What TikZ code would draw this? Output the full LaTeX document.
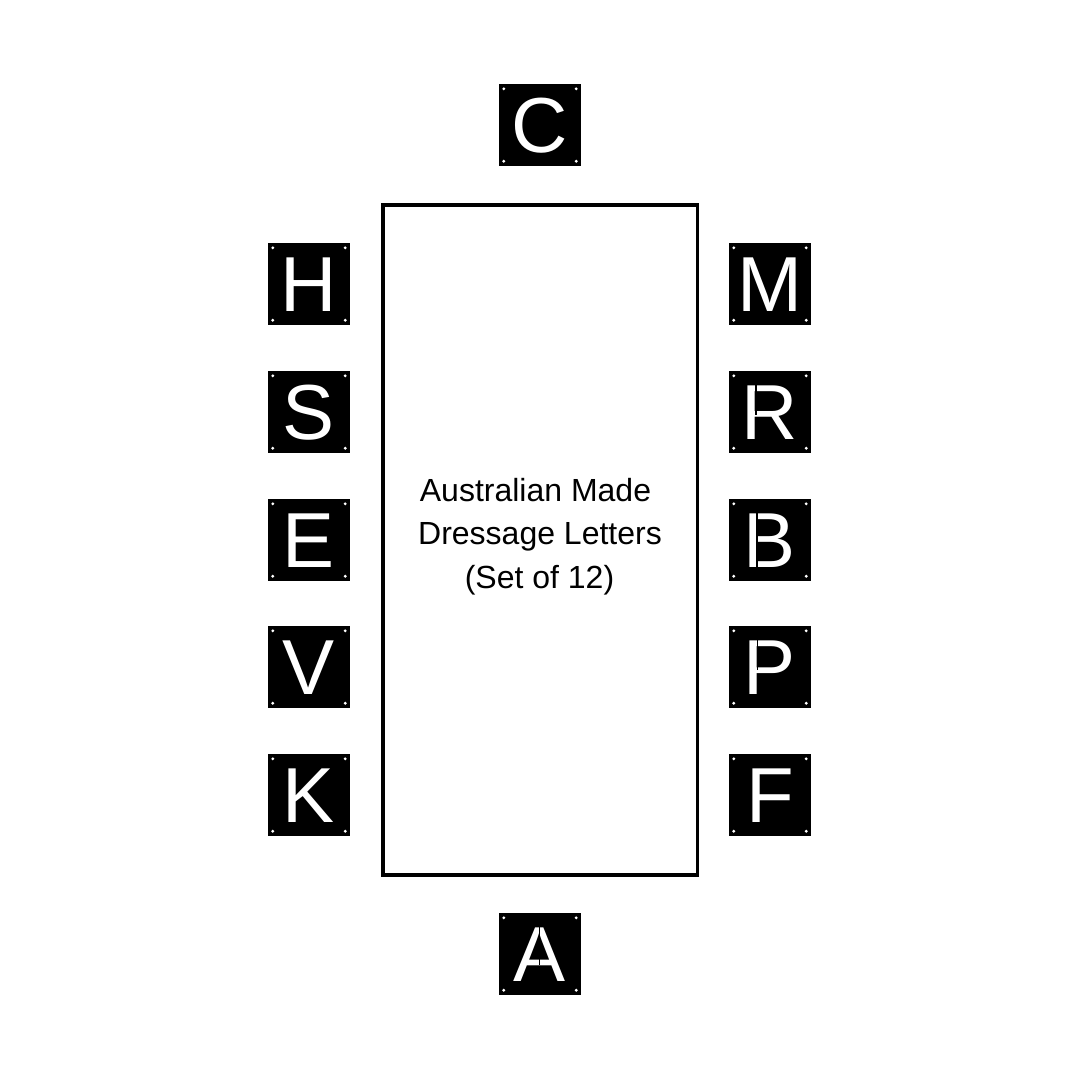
\documentclass[tikz,border=0pt]{standalone}
\usepackage{fontspec}
\setmainfont{Liberation Sans}
\usetikzlibrary{calc}
\tikzset{
  tile/.style={fill=black, minimum size=82pt, inner sep=0pt, text=white,
    font=\fontsize{78}{78}\selectfont, text height=55.8pt, text depth=0pt},
  hole/.style={fill=white},
  stencilcut/.style={draw=black, line width=1.6pt},
  caption/.style={anchor=base, inner sep=0pt, font=\fontsize{32}{32}\selectfont},
  arena/.style={draw=black, line width=3.6pt, inner sep=0pt, minimum width=314.5pt, minimum height=670.3pt},
}
\newcommand\tileholes[1]{%
  \fill[hole] ($(#1.north west)+(5,5)$) circle (1.6pt);
  \fill[hole] ($(#1.north east)+(-5,5)$) circle (1.6pt);
  \fill[hole] ($(#1.south west)+(5,-5)$) circle (1.6pt);
  \fill[hole] ($(#1.south east)+(-5,-5)$) circle (1.6pt);
}
\begin{document}
\begin{tikzpicture}[x=1pt,y=-1pt]
  \fill[white] (0,0) rectangle (1080,1080);
  \useasboundingbox (0,0) rectangle (1080,1080);
  % arena
  \node[arena] (arena) at (540.25,539.85) {};
  % tiles
  \node[tile] (C) at (540,125) {C};
  \node[tile] (A) at (540,954) {A};
  \node[tile] (H) at (309,284) {H};
  \node[tile] (S) at (309,412) {S};
  \node[tile] (E) at (309,540) {E};
  \node[tile] (V) at (309,667) {V};
  \node[tile] (K) at (309,795) {K};
  \node[tile] (M) at (770,284) {M};
  \node[tile] (R) at (770,412) {R};
  \node[tile] (B) at (770,540) {B};
  \node[tile] (P) at (770,667) {P};
  \node[tile] (F) at (770,795) {F};
  \foreach \t in {C,A,H,S,E,V,K,M,R,B,P,F} {\tileholes{\t}}
  % stencil breaks
  \draw[stencilcut] ($(R.center)+(-14.2,-30)$) -- ($(R.center)+(-14.2,3)$);
  \draw[stencilcut] ($(B.center)+(-12.8,-30)$) -- ($(B.center)+(-12.8,30)$);
  \draw[stencilcut] ($(P.center)+(-12.4,-30)$) -- ($(P.center)+(-12.4,3)$);
  \draw[stencilcut] ($(A.center)+(-0.6,-30)$) -- ($(A.center)+(-0.6,11)$);
  % caption
  \node[caption] (cap1) at (535.5,501) {Australian Made};
  \node[caption] (cap2) at (540,544.5) {Dressage Letters};
  \node[caption] (cap3) at (539.5,588) {(Set of 12)};
\end{tikzpicture}
\end{document}
